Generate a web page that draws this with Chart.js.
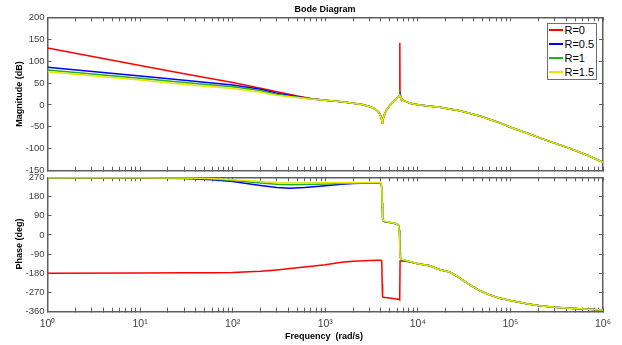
<!DOCTYPE html>
<html><head><meta charset="utf-8">
<script src="https://cdn.jsdelivr.net/npm/chart.js@4"></script>
<style>
html,body{margin:0;padding:0;background:#fff;width:622px;height:345px;overflow:hidden;}
#wrap{position:relative;width:622px;height:345px;font-family:"Liberation Sans",Arial,Helvetica,sans-serif;}
canvas{position:absolute;left:0;}
#cMag{top:0;}
#cPh{top:165px;}
.t{position:absolute;font-weight:bold;font-size:9px;color:#000;white-space:nowrap;line-height:1;transform:translate(-50%,-50%);}
.rot{transform:translate(-50%,-50%) rotate(-90deg);}
#legend{position:absolute;left:546.5px;top:22.5px;width:50.5px;height:57.5px;box-sizing:border-box;border:1.5px solid #6e6e6e;background:#fff;}
#legend .row{display:flex;align-items:center;height:13.9px;font-size:11px;color:#000;white-space:nowrap;}
#legend .sw{display:inline-block;width:14px;height:2px;margin-left:1.3px;margin-right:1.7px;}
</style></head>
<body><div id="wrap">
<canvas id="cMag" width="622" height="175"></canvas>
<canvas id="cPh" width="622" height="180"></canvas>
<div class="t" style="left:325px;top:8.5px;">Bode Diagram</div>
<div class="t rot" style="left:18.5px;top:94px;">Magnitude (dB)</div>
<div class="t rot" style="left:18.5px;top:244px;">Phase (deg)</div>
<div class="t" style="left:324px;top:336px;">Frequency&nbsp;&nbsp;(rad/s)</div>
<div id="legend"></div>
</div>
<script>
// ---- series ----
const seriesNames = ['R=0', 'R=0.5', 'R=1', 'R=1.5'];
const seriesColors = ['#ff0000', '#0000ff', '#22b022', '#e6e600'];

// ---- magnitude (dB) ----
const magFreq = [1, 10, 30, 100, 200, 300, 500, 700, 1000, 1500,
  2000, 2500, 3000, 3300, 3600, 3800, 3950, 4050, 4120, 4200,
  4350, 4600, 5000, 5400, 5800, 6100, 6300, 6380, 6400, 6420,
  6500, 6700, 7000, 7500, 8200, 9000, 10500, 13000, 17300, 22000,
  28400, 36000, 46700, 60000, 80000, 100000, 150000, 207000, 300000, 437000,
  700000, 1000000];
const magR0 = [130, 90, 71, 51, 38, 30, 20.5, 14.5, 11, 7.5,
  4, 1, -3.5, -7, -12, -17, -24, -32, -42, -33,
  -22, -11, -1, 7, 13, 17.5, 20, 21, 142, 21,
  17.5, 14, 10.5, 7.5, 4, 2, 0, -2.5, -5.5, -9,
  -13, -19, -25, -33, -42, -51, -64, -75, -87, -99,
  -116, -131];
const magR05 = [86, 66, 56.5, 45.5, 36, 27, 18.5, 14, 11, 7.5,
  4, 1, -3.5, -7, -12, -17, -24, -32, -42, -33,
  -22, -11, -1, 7, 13, 17.5, 20.5, 24, 30, 23.5,
  17.5, 14, 10.5, 7.5, 4, 2, 0, -2.5, -5.5, -9,
  -13, -19, -25, -33, -42, -51, -64, -75, -87, -99,
  -116, -131];
const magR1 = [80, 61, 51.5, 41.5, 33, 24, 17.5, 13.5, 11, 7.5,
  4, 1, -3.5, -7, -12, -17, -24, -32, -42, -33,
  -22, -11, -1, 7, 13, 17.5, 20, 21.5, 23, 21,
  17.5, 14, 10.5, 7.5, 4, 2, 0, -2.5, -5.5, -9,
  -13, -19, -25, -33, -42, -51, -64, -75, -87, -99,
  -116, -131];
const magR15 = [76, 57, 46.5, 37.5, 29, 22, 17, 13.5, 11, 7.5,
  4, 1, -3.5, -7, -12, -17, -24, -32, -42, -33,
  -22, -11, -1, 7, 13, 17.5, 20, 20.8, 21, 20.5,
  17.5, 14, 10.5, 7.5, 4, 2, 0, -2.5, -5.5, -9,
  -13, -19, -25, -33, -42, -51, -64, -75, -87, -99,
  -116, -131];

// ---- phase (deg) ----
const phaseFreq = [1, 10, 30, 60, 100, 200, 300, 415, 600, 1000,
  1500, 2000, 3000, 3800, 4000, 4080, 4120, 4160, 4220, 4400,
  5000, 5800, 6200, 6330, 6370, 6430, 6480, 6700, 7300, 8200,
  10000, 13500, 17400, 22100, 28000, 36500, 47000, 59700, 75000, 100000,
  150000, 207000, 300000, 437000, 700000, 1000000];
const phaseR0 = [-180, -179, -178, -177, -176, -170, -164, -158, -150, -140,
  -128, -124, -120, -119, -119, -125, -230, -288, -291, -293,
  -296, -300, -302, -304, -305, -122, -122, -122, -123, -126,
  -135, -145, -163, -174, -200, -234, -262, -281, -296, -308,
  -323, -332, -339, -344, -349, -352];
const phaseR05 = [268, 267, 264, 258, 250, 232, 222, 219, 222, 230,
  237, 241, 243, 243, 240, 218, 150, 82, 66, 62,
  58, 52, 45, 22, -20, -80, -105, -116, -120, -126,
  -135, -145, -163, -174, -200, -234, -262, -281, -296, -308,
  -323, -332, -339, -344, -349, -352];
const phaseR1 = [268, 268, 266, 262, 255, 243, 237, 235, 236, 239,
  241, 243, 245, 245, 241, 220, 152, 84, 67, 63,
  58, 52, 43, 5, -50, -100, -110, -116, -120, -126,
  -135, -145, -163, -174, -200, -234, -262, -281, -296, -308,
  -323, -332, -339, -344, -349, -352];
const phaseR15 = [268, 268, 267, 264, 258, 250, 245, 243, 243, 244,
  244, 245, 246, 246, 243, 222, 155, 86, 68, 64,
  59, 53, 44, 3, -50, -100, -110, -115, -119, -125,
  -135, -145, -163, -174, -200, -234, -262, -281, -296, -308,
  -323, -332, -339, -344, -349, -352];

// ---- ticks ----
const freqDecades = [1, 10, 100, 1000, 10000, 100000, 1000000];
const freqTickLabels = ['10\u2070', '10\u00b9', '10\u00b2', '10\u00b3', '10\u2074', '10\u2075', '10\u2076'];
const magTicks = [-150, -100, -50, 0, 50, 100, 150, 200];
const phaseTicks = [-360, -270, -180, -90, 0, 90, 180, 270];

// minor tick positions on the log axis (2..9 per decade)
const xTickVals = [];
for (let i = 0; i < freqDecades.length - 1; i++) {
  for (let k = 1; k <= 9; k++) xTickVals.push(freqDecades[i] * k);
}
xTickVals.push(freqDecades[freqDecades.length - 1]);

// ---- legend (HTML) ----
const lg = document.getElementById('legend');
seriesNames.forEach((n, i) => {
  const row = document.createElement('div');
  row.className = 'row';
  const sw = document.createElement('span');
  sw.className = 'sw';
  sw.style.background = seriesColors[i];
  const tx = document.createElement('span');
  tx.textContent = n;
  row.appendChild(sw); row.appendChild(tx);
  lg.appendChild(row);
});

const AX = '#5e5e5e';
const TXT = '#404040';
const FONT = '"Liberation Sans", Arial, Helvetica, sans-serif';

function zeroPad(s) { s.paddingLeft = 0; s.paddingRight = 0; s.paddingTop = 0; s.paddingBottom = 0; }

function xScale(pos, showLabels, height) {
  return {
    type: 'logarithmic', position: pos, min: 1, max: 1000000,
    afterBuildTicks: s => { s.ticks = xTickVals.map(v => ({ value: v, major: freqDecades.includes(v) })); },
    afterFit: s => { s.height = height; zeroPad(s); },
    grid: { display: true, drawOnChartArea: false, drawTicks: true, tickLength: -4, color: AX, tickColor: AX, lineWidth: 1, tickWidth: 1 },
    border: { display: true, color: AX, width: 1.5 },
    ticks: {
      display: showLabels, autoSkip: false, maxRotation: 0, minRotation: 0, padding: 10,
      color: TXT, font: { size: 10.5, family: FONT },
      callback: v => { const i = freqDecades.indexOf(v); return i >= 0 ? freqTickLabels[i] : ''; }
    }
  };
}
function yScale(pos, min, max, vals, showLabels, width) {
  return {
    type: 'linear', position: pos, min: min, max: max,
    afterBuildTicks: s => { s.ticks = vals.map(v => ({ value: v })); },
    afterFit: s => { s.width = width; zeroPad(s); },
    grid: { display: true, drawOnChartArea: false, drawTicks: true, tickLength: -4, color: AX, tickColor: AX, lineWidth: 1, tickWidth: 1 },
    border: { display: true, color: AX, width: 1.5 },
    ticks: { display: showLabels, autoSkip: false, padding: 7, color: TXT, font: { size: 9.5, family: FONT } }
  };
}

function makeDatasets(freq, arrays) {
  return arrays.map((arr, i) => ({
    label: seriesNames[i],
    data: freq.map((f, j) => ({ x: f, y: arr[j] })),
    borderColor: seriesColors[i],
    backgroundColor: seriesColors[i],
    borderWidth: 1.5,
    pointRadius: 0,
    tension: 0,
    fill: false,
    order: arrays.length - i
  }));
}

function commonOpts(scales, padding) {
  return {
    responsive: false,
    animation: false,
    events: [],
    layout: { padding: padding },
    plugins: { legend: { display: false }, tooltip: { enabled: false }, title: { display: false } },
    scales: scales
  };
}

new Chart(document.getElementById('cMag'), {
  type: 'line',
  data: { datasets: makeDatasets(magFreq, [magR0, magR05, magR1, magR15]) },
  options: commonOpts({
    x: xScale('bottom', false, 4.3),
    x2: xScale('top', false, 0),
    y: yScale('left', -150, 200, magTicks, true, 47.5),
    y2: yScale('right', -150, 200, magTicks, false, 0)
  }, { left: 0, right: 19, top: 17.3, bottom: 0 })
});

new Chart(document.getElementById('cPh'), {
  type: 'line',
  data: { datasets: makeDatasets(phaseFreq, [phaseR0, phaseR05, phaseR1, phaseR15]) },
  options: commonOpts({
    x: xScale('bottom', true, 33.3),
    x2: xScale('top', false, 0),
    y: yScale('left', -360, 270, phaseTicks, true, 47.5),
    y2: yScale('right', -360, 270, phaseTicks, false, 0)
  }, { left: 0, right: 19, top: 12.3, bottom: 0 })
});
</script>
</body></html>
